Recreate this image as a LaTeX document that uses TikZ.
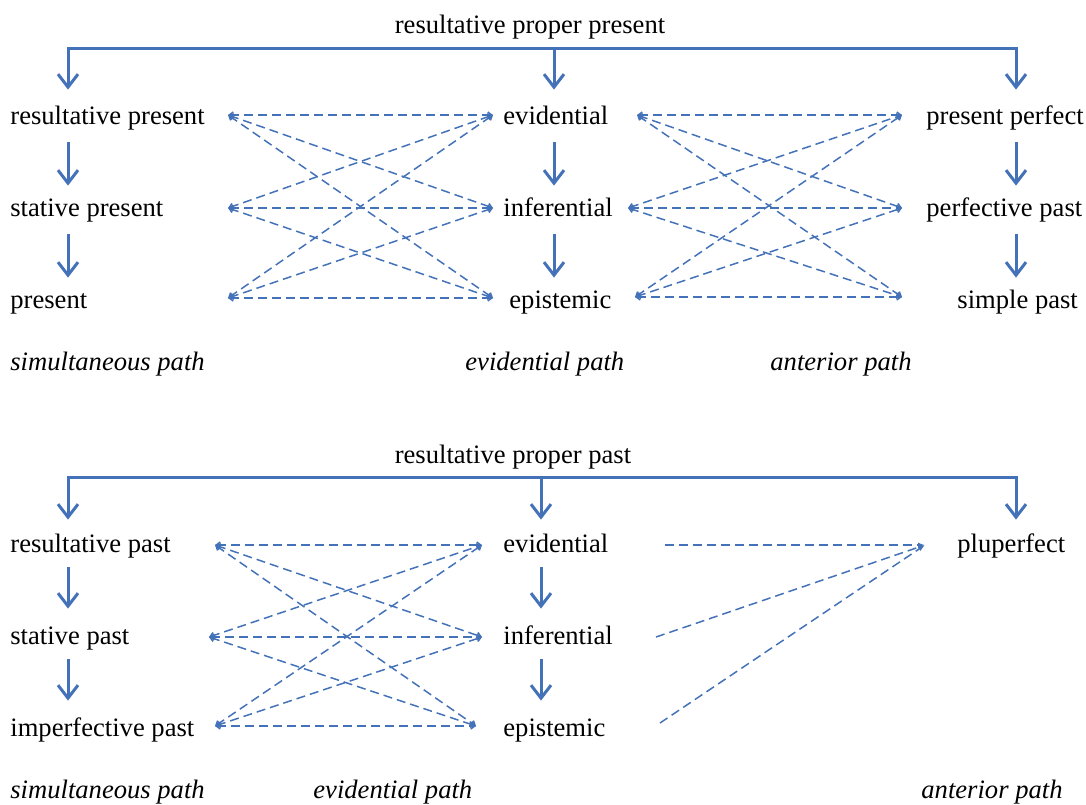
\documentclass[tikz,border=0pt]{standalone}
\usepackage{fontspec}
\setmainfont{Liberation Serif}
\usetikzlibrary{arrows.meta}
\definecolor{pathblue}{HTML}{4472B8}

\begin{document}
\begin{tikzpicture}[
  x=0.5pt, y=-0.5pt,
  font=\fontsize{13.3}{16}\selectfont,
  tense/.style    = {anchor=base west, inner sep=0pt, text height=9.5pt, text depth=3pt},
  pathlbl/.style  = {tense, font=\fontsize{13.3}{16}\selectfont\itshape},
  headline/.style = {anchor=base, inner sep=0pt},
  flow/.style     = {-{Straight Barb[length=6.5pt, width=10pt]}, draw=pathblue,
                     line width=1.5pt},
  link/.style     = {{Straight Barb[length=2pt, width=3pt]}-{Straight Barb[length=2pt, width=3pt]},
                     draw=pathblue, line width=0.75pt, dash pattern=on 4.5pt off 2.5pt},
  linkto/.style   = {-{Latex[length=3.5pt, width=2.5pt]}, draw=pathblue, line width=0.75pt,
                     dash pattern=on 4.5pt off 2.5pt},
]
\useasboundingbox (0,0) rectangle (1086,804);

% ---- present: three paths
\node[headline] (proppres) at (530,33) {resultative proper present};
\node[tense] (rpres)    at (10,124)  {resultative present};
\node[tense] (stpres)   at (10,216)  {stative present};
\node[tense] (pres)     at (10,308)  {present};
\node[tense] (evid)     at (503,124) {evidential};
\node[tense] (infer)    at (503,216) {inferential};
\node[tense] (epist)    at (509,308) {epistemic};
\node[tense] (presperf) at (926,124) {present perfect};
\node[tense] (perfpast) at (926,216) {perfective past};
\node[tense] (simppast) at (957,308) {simple past};
\node[pathlbl] (simul)    at (10,370)  {simultaneous path};
\node[pathlbl] (evidpath) at (465,370) {evidential path};
\node[pathlbl] (antpath)  at (770,370) {anterior path};

\coordinate (colL) at (68,48);
\coordinate (colM) at (554,48);
\coordinate (colR) at (1016,48);

\draw[flow, shorten >=7.5pt] (colM) -| (rpres.north -| colL);
\draw[flow, shorten >=7.5pt] (colM) -| (presperf.north -| colR);
\draw[flow, shorten >=7.5pt] (colM) -- (evid.north -| colM);

\draw[flow, shorten <=6pt, shorten >=5.5pt] (rpres.south -| colL) -- (stpres.north -| colL);
\draw[flow, shorten <=6pt, shorten >=5.5pt] (stpres.south -| colL) -- (pres.north -| colL);
\draw[flow, shorten <=6pt, shorten >=5.5pt] (evid.south -| colM) -- (infer.north -| colM);
\draw[flow, shorten <=6pt, shorten >=5.5pt] (infer.south -| colM) -- (epist.north -| colM);
\draw[flow, shorten <=6pt, shorten >=5.5pt] (presperf.south -| colR) -- (perfpast.north -| colR);
\draw[flow, shorten <=6pt, shorten >=5.5pt] (perfpast.south -| colR) -- (simppast.north -| colR);

% dashed links, simultaneous <-> evidential
\coordinate (tl1) at (228,115);
\coordinate (tl2) at (228,208);
\coordinate (tl3) at (228,298);
\coordinate (tm1) at (493,115);
\coordinate (tm2) at (493,208);
\coordinate (tm3) at (493,298);
\draw[link] (tl1) -- (tm1); \draw[link] (tl1) -- (tm2); \draw[link] (tl1) -- (tm3);
\draw[link] (tl2) -- (tm1); \draw[link] (tl2) -- (tm2); \draw[link] (tl2) -- (tm3);
\draw[link] (tl3) -- (tm1); \draw[link] (tl3) -- (tm2); \draw[link] (tl3) -- (tm3);

% dashed links, evidential <-> anterior
\coordinate (tn1) at (637,115);
\coordinate (tn2) at (628,208);
\coordinate (tn3) at (635,297);
\coordinate (tr1) at (902,115);
\coordinate (tr2) at (902,208);
\coordinate (tr3) at (902,297);
\draw[link] (tn1) -- (tr1); \draw[link] (tn1) -- (tr2); \draw[link] (tn1) -- (tr3);
\draw[link] (tn2) -- (tr1); \draw[link] (tn2) -- (tr2); \draw[link] (tn2) -- (tr3);
\draw[link] (tn3) -- (tr1); \draw[link] (tn3) -- (tr2); \draw[link] (tn3) -- (tr3);

% ---- past: three paths
\node[headline] (proppast) at (513,463) {resultative proper past};
\node[tense] (rpast)   at (10,552)  {resultative past};
\node[tense] (stpast)  at (10,644)  {stative past};
\node[tense] (imppast) at (10,736)  {imperfective past};
\node[tense] (evidb)   at (503,552) {evidential};
\node[tense] (inferb)  at (503,644) {inferential};
\node[tense] (epistb)  at (503,736) {epistemic};
\node[tense] (pluperf) at (957,552) {pluperfect};
\node[pathlbl] (simulb)    at (10,798)  {simultaneous path};
\node[pathlbl] (evidpathb) at (313,798) {evidential path};
\node[pathlbl] (antpathb)  at (921,798) {anterior path};

\coordinate (bcolL) at (68,477);
\coordinate (bcolM) at (541,477);
\coordinate (bcolR) at (1016,477);

\draw[flow, shorten >=6.5pt] (bcolM) -| (rpast.north -| bcolL);
\draw[flow, shorten >=6.5pt] (bcolM) -| (pluperf.north -| bcolR);
\draw[flow, shorten >=6.5pt] (bcolM) -- (evidb.north -| bcolM);

\draw[flow, shorten <=4.5pt, shorten >=8pt] (rpast.south -| bcolL) -- (stpast.north -| bcolL);
\draw[flow, shorten <=4.5pt, shorten >=8pt] (stpast.south -| bcolL) -- (imppast.north -| bcolL);
\draw[flow, shorten <=4.5pt, shorten >=8pt] (evidb.south -| bcolM) -- (inferb.north -| bcolM);
\draw[flow, shorten <=4.5pt, shorten >=8pt] (inferb.south -| bcolM) -- (epistb.north -| bcolM);

% dashed links, simultaneous <-> evidential
\coordinate (bl1) at (215,545);
\coordinate (bl2) at (209,637);
\coordinate (bl3) at (215,726);
\coordinate (bm1) at (482,545);
\coordinate (bm2) at (482,637);
\coordinate (bm3) at (476,726);
\draw[link] (bl1) -- (bm1); \draw[link] (bl1) -- (bm2); \draw[link] (bl1) -- (bm3);
\draw[link] (bl2) -- (bm1); \draw[link] (bl2) -- (bm2); \draw[link] (bl2) -- (bm3);
\draw[link] (bl3) -- (bm1); \draw[link] (bl3) -- (bm2); \draw[link] (bl3) -- (bm3);

% dashed links, evidential -> pluperfect
\coordinate (bn1) at (665,545);
\coordinate (bn2) at (656,637);
\coordinate (bn3) at (660,723);
\coordinate (br1) at (925,545);
\draw[linkto] (bn1) -- (br1);
\draw[linkto] (bn2) -- (br1);
\draw[linkto] (bn3) -- (br1);

\end{tikzpicture}
\end{document}
